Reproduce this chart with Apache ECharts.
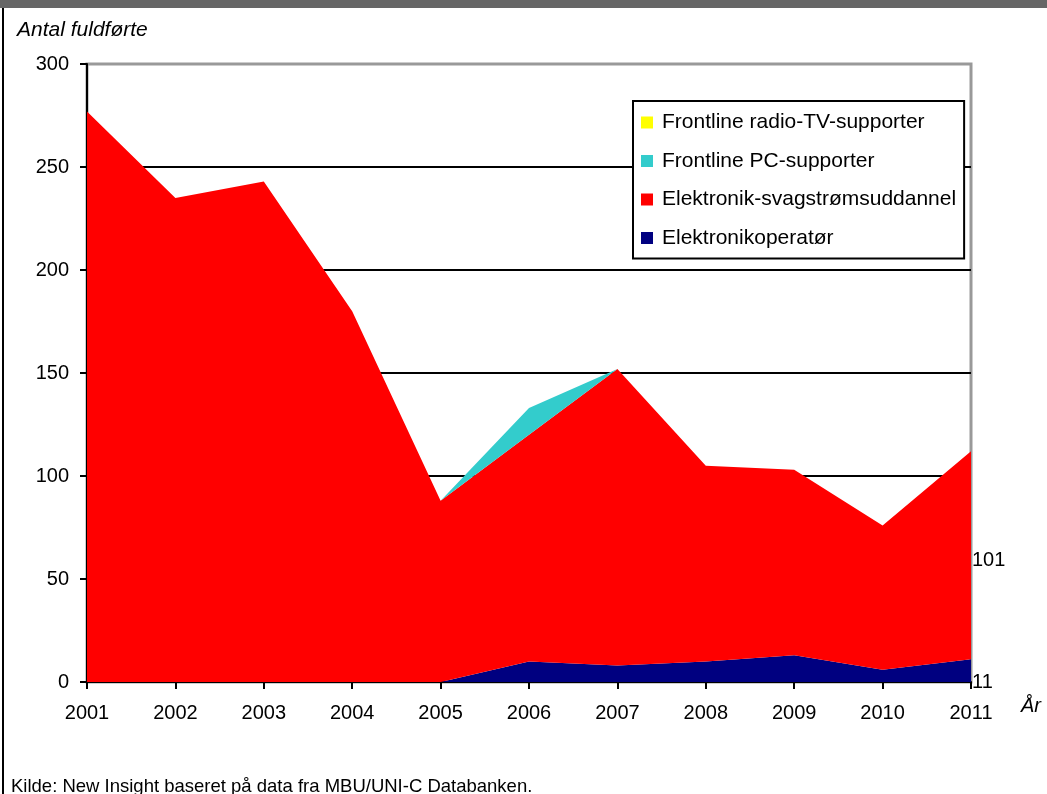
<!DOCTYPE html>
<html>
<head>
<meta charset="utf-8">
<script src="https://cdn.jsdelivr.net/npm/echarts@6/dist/echarts.min.js"></script>
<style>
  html, body { margin: 0; padding: 0; background: #fff; }
  #chart { width: 1047px; height: 794px; }
</style>
</head>
<body>
<div id="chart"></div>
<script>
// years on the x axis
var years = ["2001", "2002", "2003", "2004", "2005", "2006", "2007", "2008", "2009", "2010", "2011"];
// stacked series, bottom to top
var operator = [0, 0, 0, 0, 0, 10, 8, 10, 13, 6, 11];
var svagstroem = [277, 235, 243, 180, 88, 110, 144, 95, 90, 70, 101];
var pcSupporter = [0, 0, 0, 0, 0, 13, 0, 0, 0, 0, 0];
var radioTv = [0, 0, 0, 0, 0, 0, 0, 0, 0, 0, 0];

var font = "Liberation Sans, Arial, sans-serif";

function areaSeries(name, data, color, endLabel) {
  return {
    name: name,
    type: "line",
    stack: "total",
    data: data,
    symbol: "none",
    lineStyle: { width: 0 },
    areaStyle: { color: color, opacity: 1 },
    itemStyle: { color: color },
    endLabel: endLabel || { show: false },
  };
}

// value label next to the 2011 point
function lastLabel(offsetY) {
  return {
    show: true,
    distance: 1,
    offset: [0, offsetY],
    color: "#000",
    fontFamily: font,
    fontSize: 20,
    formatter: function (p) {
      return p.value;
    },
  };
}

var chart = echarts.init(document.getElementById("chart"));
var option = {
  animation: false,
  backgroundColor: "#fff",
  title: [
    {
      text: "Antal fuldførte",
      left: 12,
      top: 15,
      textStyle: { fontFamily: font, fontSize: 21, fontStyle: "italic", fontWeight: "normal", color: "#000" },
    },
    {
      text: "År",
      left: 1016,
      top: 691,
      textStyle: { fontFamily: font, fontSize: 20, fontStyle: "italic", fontWeight: "normal", color: "#000" },
    },
    {
      text: "Kilde: New Insight baseret på data fra MBU/UNI-C Databanken.",
      left: 6,
      top: 772,
      textStyle: { fontFamily: font, fontSize: 18.5, fontWeight: "normal", color: "#000" },
    },
  ],
  graphic: [
    { type: "rect", shape: { x: 0, y: 0, width: 1047, height: 8 }, style: { fill: "#666" } },
    { type: "line", shape: { x1: 3, y1: 8, x2: 3, y2: 794 }, style: { stroke: "#000", lineWidth: 2 } },
  ],
  legend: {
    orient: "vertical",
    left: 633,
    top: 101,
    padding: [11, 8, 10, 8],
    itemGap: 17.5,
    itemWidth: 12,
    itemHeight: 12,
    icon: "rect",
    backgroundColor: "#fff",
    borderColor: "#000",
    borderWidth: 2,
    borderRadius: 0,
    textStyle: { fontFamily: font, fontSize: 21, color: "#000", padding: [0, 0, 0, 4] },
    data: ["Frontline radio-TV-supporter", "Frontline PC-supporter", "Elektronik-svagstrømsuddannel", "Elektronikoperatør"],
  },
  grid: {
    left: 87,
    right: 76,
    top: 64,
    bottom: 112,
    show: true,
    borderColor: "#999",
    borderWidth: 3,
  },
  xAxis: {
    type: "category",
    data: years,
    boundaryGap: false,
    axisLine: { lineStyle: { color: "#000", width: 2 } },
    axisTick: { show: true, alignWithLabel: true, length: 7, lineStyle: { color: "#000", width: 2 } },
    axisLabel: { color: "#000", fontFamily: font, fontSize: 20, margin: 21 },
    splitLine: { show: false },
  },
  yAxis: {
    type: "value",
    min: 0,
    max: 300,
    interval: 50,
    axisLine: { show: true, lineStyle: { color: "#000", width: 2 } },
    axisTick: { show: true, length: 7, lineStyle: { color: "#000", width: 2 } },
    axisLabel: { color: "#000", fontFamily: font, fontSize: 20, margin: 18 },
    splitLine: { show: true, lineStyle: { color: ["#000", "#000", "#000", "#000", "#000", "#000", "#999"], width: 2 } },
  },
  series: [
    areaSeries("Elektronikoperatør", operator, "#000080", lastLabel(23)),
    areaSeries("Elektronik-svagstrømsuddannel", svagstroem, "#FF0000", lastLabel(109)),
    areaSeries("Frontline PC-supporter", pcSupporter, "#33CCCC"),
    areaSeries("Frontline radio-TV-supporter", radioTv, "#FFFF00"),
  ],
};
chart.setOption(option);
</script>
</body>
</html>
